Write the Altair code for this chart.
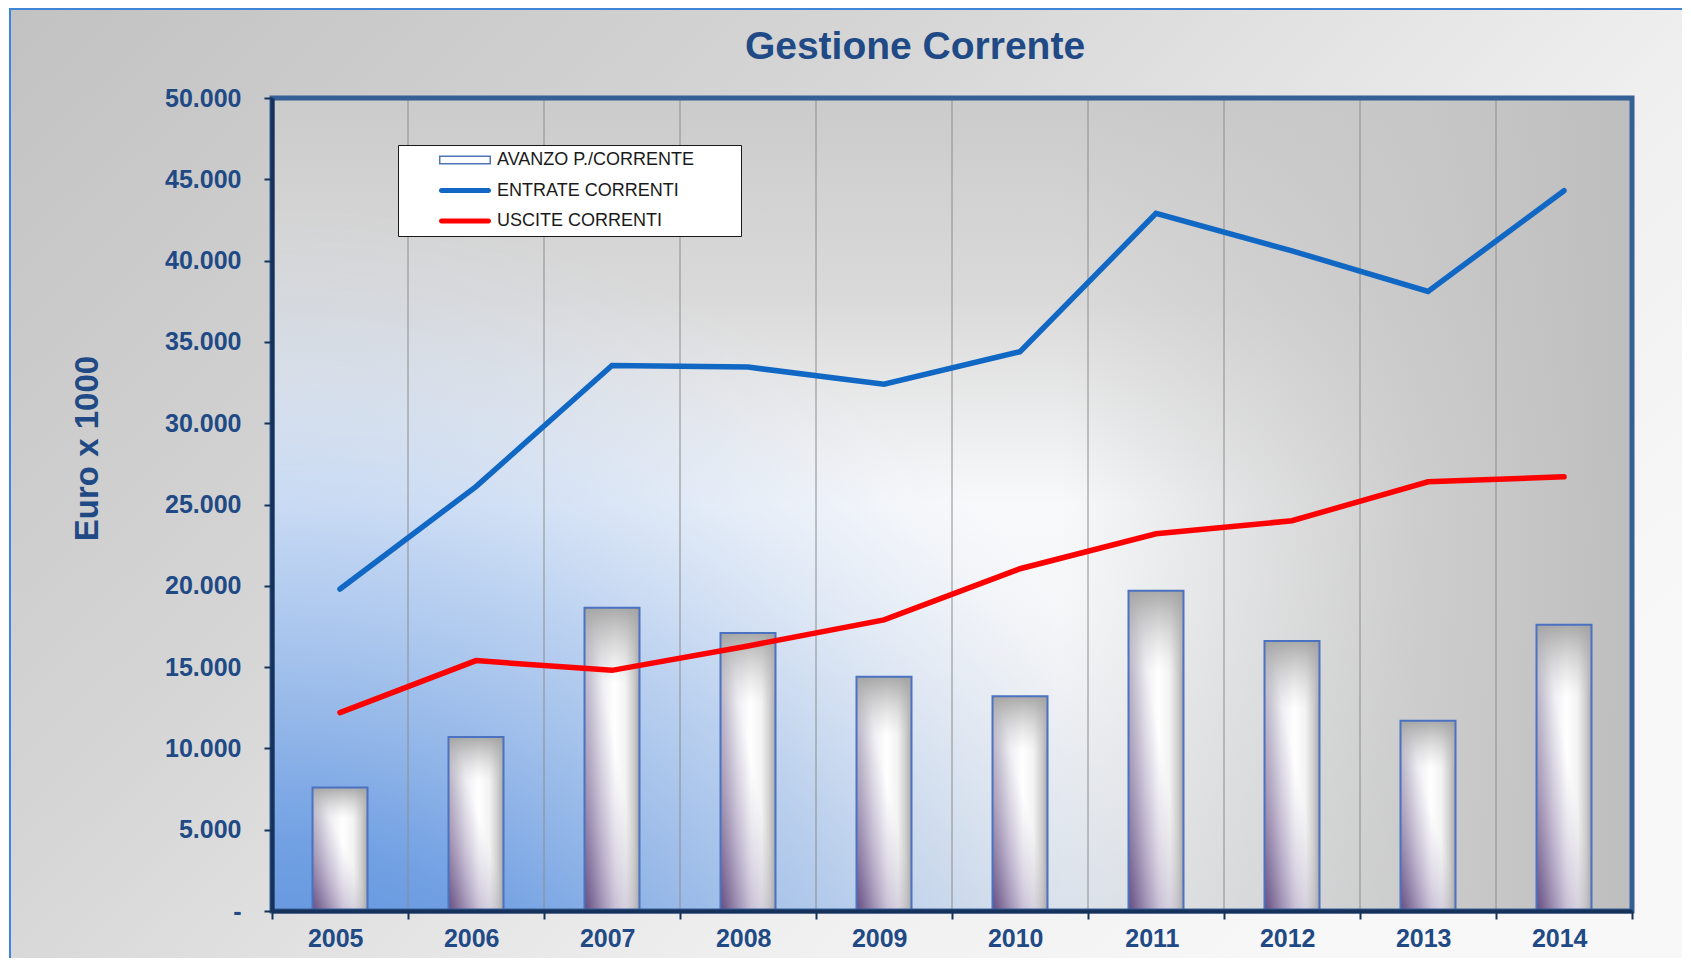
import altair as alt
import pandas as pd

# ---------------- data ----------------
anni = ["2005", "2006", "2007", "2008", "2009", "2010", "2011", "2012", "2013", "2014"]
avanzo = [7600, 10700, 18650, 17100, 14400, 13200, 19700, 16600, 11700, 17600]
entrate = [19800, 26100, 33550, 33450, 32400, 34400, 42900, 40600, 38100, 44300]
uscite = [12200, 15400, 14800, 16300, 17900, 21050, 23200, 24000, 26400, 26700]

S_AV = "AVANZO P./CORRENTE"
S_EN = "ENTRATE CORRENTI"
S_US = "USCITE CORRENTI"
serie_nomi = [S_AV, S_EN, S_US]
y_ticks = [0, 5000, 10000, 15000, 20000, 25000, 30000, 35000, 40000, 45000, 50000]
titolo = "Gestione Corrente"
titolo_y = "Euro x 1000"

rows = []
for nome, vals in zip(serie_nomi, [avanzo, entrate, uscite]):
    for a, v in zip(anni, vals):
        rows.append({"anno": a, "serie": nome, "valore": v})
df = pd.DataFrame(rows)
one = pd.DataFrame({"k": [0]})
df_grid = pd.DataFrame({"anno": anni[1:]})
df_title = pd.DataFrame({"t": [titolo]})

# ---------------- styling ----------------
W, H = 1360, 813
FONT = "Liberation Sans"
TXT = "#1f4a85"
NAVY = "#17325a"
BLUE = "#1068c4"
RED = "#ff0000"
BAR_EDGE = "#4a72c0"

def lg(stops, x1=0, y1=0, x2=1, y2=0):
    return alt.LinearGradient(
        gradient="linear",
        stops=[alt.GradientStop(color=c, offset=o) for o, c in stops],
        x1=x1, y1=y1, x2=x2, y2=y2,
    )

outer_grad = lg([(0, "#c2c2c2"), (0.4, "#d6d6d6"), (0.75, "#efefef"), (1, "#f8f8f8")], 0, 0, 1, 0.6)
plot_base = lg([(0, "#cbcbcb"), (0.25, "#dadada"), (0.5, "#f8f9fb"), (0.62, "#f6f7f9"), (1, "#e6e8ea")], 0, 0, 0, 1)
plot_right = lg([(0, "rgba(198,198,198,0)"), (0.58, "rgba(198,198,198,0)"),
                 (0.84, "rgba(198,198,198,0.85)"), (1, "rgba(190,190,190,1)")], 0, 0, 1, 0)
plot_blue = alt.RadialGradient(
    gradient="radial",
    stops=[alt.GradientStop(color="rgba(70,130,215,1)", offset=0),
           alt.GradientStop(color="rgba(100,152,226,0.9)", offset=0.35),
           alt.GradientStop(color="rgba(150,186,236,0.6)", offset=0.65),
           alt.GradientStop(color="rgba(205,220,242,0)", offset=1)],
    x1=0, y1=1, r1=0, x2=0, y2=1, r2=0.72,
)
bar_a = lg([(0, "#c9c6d0"), (0.3, "#eeedf2"), (0.55, "#ffffff"), (0.75, "#f2f2f2"), (0.9, "#cccccc"), (1, "#a8a8a8")])
bar_b = lg([(0, "rgba(95,70,125,0.95)"), (0.5, "rgba(130,110,160,0.45)"), (1, "rgba(160,150,185,0)")], 0, 1, 0.55, 0.45)
bar_c = lg([(0, "rgba(160,160,160,0.9)"), (0.25, "rgba(200,200,200,0)"), (1, "rgba(200,200,200,0)")], 0, 0, 0, 1)

x_scale = alt.Scale(domain=anni, paddingInner=0, paddingOuter=0)
y_scale = alt.Scale(domain=[0, 50000], nice=False)

x_axis = alt.Axis(
    tickBand="extent", labelAngle=0, labelFont=FONT, labelFontSize=25, labelFontWeight="bold",
    labelColor=TXT, labelPadding=19, labelOffset=23, tickSize=8, tickWidth=2, tickColor=NAVY,
    domainColor=NAVY, domainWidth=4, grid=False, title=None, zindex=2,
)
y_axis = alt.Axis(
    values=y_ticks,
    labelExpr="datum.value == 0 ? '-' : (datum.value / 1000) + '.000'",
    labelFont=FONT, labelFontSize=25, labelFontWeight="bold", labelColor=TXT, labelPadding=23,
    tickSize=8, tickWidth=2, tickColor=NAVY, domainColor=NAVY, domainWidth=4, grid=False,
    title=titolo_y, titleFont=FONT, titleFontSize=33, titleFontWeight="bold", titleColor=TXT,
    titleX=-175, titleY=350, titleAngle=270, titleBaseline="alphabetic", titleAlign="center",
    zindex=2,
)

RING = "M-4.333,-0.75H4.333V0.75H-4.333Z M-4.083,-0.5V0.5H4.083V-0.5Z"
LSYM = "M-3.933,-0.4H3.933A0.4,0.4 0 0 1 3.933,0.4H-3.933A0.4,0.4 0 0 1 -3.933,-0.4Z"
color_scale = alt.Scale(domain=serie_nomi, range=["#4f75b8", BLUE, RED])
shape_scale = alt.Scale(domain=serie_nomi, range=[RING, LSYM, LSYM])

legend = alt.Legend(
    orient="none", legendX=126, legendY=47,
    title="x", titleColor="rgba(0,0,0,0)", titleOrient="right", titlePadding=30,
    titleFont=FONT, titleFontSize=18,
    fillColor="white", strokeColor="#1a1a1a", padding=6,
    symbolSize=144, symbolStrokeWidth=0, symbolOpacity=1,
    symbolOffset=52, labelOffset=23, rowPadding=12.5,
    labelFont=FONT, labelFontSize=18, labelColor="#1a1a1a", labelLimit=500,
    zindex=2,
)

# ---------------- layers ----------------
bg_outer = alt.Chart(one).mark_rect(fill=outer_grad, stroke="#3d86d8", strokeWidth=2).encode(
    x=alt.value(-262), x2=alt.value(W + 60), y=alt.value(-89), y2=alt.value(H + 60))
bg_plot = alt.Chart(one).mark_rect(fill=plot_base).encode(
    x=alt.value(0), x2=alt.value(W), y=alt.value(0), y2=alt.value(H))
bg_right = alt.Chart(one).mark_rect(fill=plot_right).encode(
    x=alt.value(0), x2=alt.value(W), y=alt.value(0), y2=alt.value(H))
bg_blue = alt.Chart(one).mark_rect(fill=plot_blue).encode(
    x=alt.value(0), x2=alt.value(W), y=alt.value(0), y2=alt.value(H))

grid = alt.Chart(df_grid).mark_rule(color="#8c8c8c", strokeWidth=1).encode(
    x=alt.X("anno:N", bandPosition=0, scale=x_scale),
    y=alt.value(0), y2=alt.value(H))

bars_src = alt.Chart(df).transform_filter(alt.datum.serie == S_AV)
bars_a = bars_src.mark_bar(size=55, fill=bar_a).encode(
    x=alt.X("anno:N", scale=x_scale, axis=x_axis),
    y=alt.Y("valore:Q", scale=y_scale, axis=y_axis))
bars_b = bars_src.mark_bar(size=55, fill=bar_b).encode(
    x=alt.X("anno:N", scale=x_scale),
    y=alt.Y("valore:Q", scale=y_scale))
bars_c = bars_src.mark_bar(size=55, fill=bar_c, stroke=BAR_EDGE, strokeWidth=2).encode(
    x=alt.X("anno:N", scale=x_scale),
    y=alt.Y("valore:Q", scale=y_scale))

lines = alt.Chart(df).transform_filter(alt.datum.serie != S_AV).mark_line(
    strokeWidth=5.5, strokeCap="round").encode(
    x=alt.X("anno:N", scale=x_scale),
    y=alt.Y("valore:Q", scale=y_scale),
    detail="serie:N",
    color=alt.condition(alt.datum.serie == S_EN, alt.value(BLUE), alt.value(RED)))

legend_pts = alt.Chart(df).mark_point(filled=True, opacity=0).encode(
    x=alt.X("anno:N", scale=x_scale),
    y=alt.Y("valore:Q", scale=y_scale),
    color=alt.Color("serie:N", scale=color_scale, legend=legend),
    shape=alt.Shape("serie:N", scale=shape_scale, legend=legend))

frame = alt.Chart(one).mark_rect(fill="transparent", stroke="#355f97", strokeWidth=5).encode(
    x=alt.value(0), x2=alt.value(W), y=alt.value(0), y2=alt.value(H))

title = alt.Chart(df_title).mark_text(
    font=FONT, fontSize=39, fontWeight="bold", color=TXT, align="center", baseline="alphabetic"
).encode(text="t:N", x=alt.value(643), y=alt.value(-39))

chart = alt.layer(
    bg_outer, bg_plot, bg_right, bg_blue, grid, bars_a, bars_b, bars_c, frame, lines, legend_pts, title
).properties(
    width=W, height=H,
    autosize=alt.AutoSizeParams(type="none"),
    padding={"left": 264, "top": 90, "right": 50, "bottom": 47},
).configure_view(stroke=None)

chart.save("out.html", embed_options={"renderer": "svg", "actions": False})
